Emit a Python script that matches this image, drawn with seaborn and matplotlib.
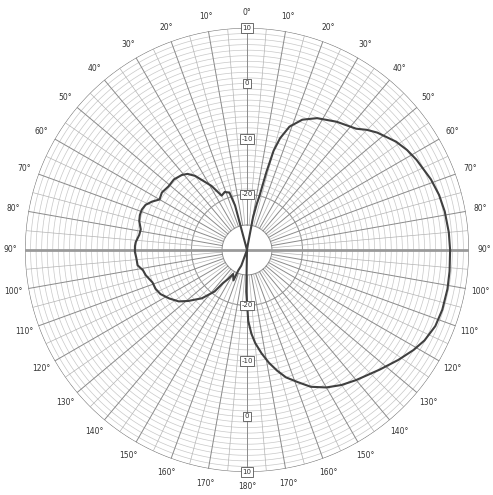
import numpy as np
import pandas as pd
import matplotlib
matplotlib.use("Agg")
import matplotlib.pyplot as plt
import seaborn as sns

# radiation pattern (angle clockwise from top, level in dB)
angle_deg = [0, 9, 10.5, 12, 13, 14, 15, 16.5, 19, 23, 28, 35, 42, 45, 48, 54,
             58, 62, 69, 74, 79, 85, 90, 96, 101, 107, 112, 117, 121, 126, 132,
             140, 145, 150, 155, 159, 163, 166, 169, 172, 175, 177, 179, 181,
             183,
             200, 203, 204, 210, 213, 216, 218, 223, 229, 233, 238, 243, 247,
             251, 256, 259, 262, 266, 269, 272, 274, 278, 281, 285, 288, 291,
             294, 297, 300, 304, 309, 314, 319, 322, 325, 331, 335, 339, 343,
             345, 352, 360]
gain_db = [-30, -29, -24, -21.5, -20, -15.5, -11.5, -9, -6.5, -4.5, -3.1, -1.8,
           -0.6, 0.6, 1.6, 3.2, 4.0, 4.6, 5.5, 6.0, 6.3, 6.5, 6.6, 6.7, 6.8,
           6.8, 6.6, 5.9, 5.0, 3.7, 2.2, 0.6, -0.3, -1.4, -2.8, -4.5, -6,
           -7.6, -9.3, -11.2, -13.2, -14.9, -17.2, -22.5, -30,
           -27, -26, -24, -25, -23.8, -22.6, -20.5, -18.1, -16, -14.6, -13.5,
           -12.5, -12.1, -12.0, -11.2, -10.9, -10.1, -10.0, -9.8, -9.8, -9.9,
           -10.4, -10.5, -9.9, -9.7, -9.7, -10, -10.8, -11.8, -11.5, -11.8,
           -11.7, -12.1, -12.6, -13.7, -16.8, -19.2, -18.8, -19.2, -21.7,
           -30, -30]

ring_labels = [10, 0, -10, -20]
angle_labels = list(range(0, 360, 10))

df = pd.DataFrame({"theta": np.deg2rad(angle_deg), "gain": gain_db})

sns.set_style("white")
fig = plt.figure(figsize=(4.93, 4.95), dpi=100)
ax = fig.add_axes([0.0507, 0.0465, 0.9006, 0.897], projection="polar")
ax.set_theta_zero_location("N")
ax.set_theta_direction(-1)
ax.set_rlim(-30, 10)
ax.grid(False)
ax.set_xticks([])
ax.set_yticks([])
ax.spines["polar"].set_visible(False)

full = np.linspace(0, 2 * np.pi, 400)
inner = -25.5

# concentric rings
for lvl in range(-20, 10):
    ax.plot(full, np.full_like(full, lvl), color="#c8c8c8", lw=0.5, zorder=1)
ax.plot(full, np.full_like(full, -20), color="#999999", lw=0.7, zorder=1)
ax.plot(full, np.full_like(full, 10), color="#777777", lw=0.8, zorder=1)
ax.plot(full, np.full_like(full, inner), color="#888888", lw=0.7, zorder=1)

# radial spokes
for a in range(0, 360, 5):
    t = np.deg2rad(a)
    c, w = ("#8a8a8a", 0.7) if a % 10 == 0 else ("#b4b4b4", 0.5)
    ax.plot([t, t], [inner, 10], color=c, lw=w, zorder=1)

# horizontal axis through the centre
ax.plot([np.pi / 2, np.pi / 2], [-30, 10], color="#9a9a9a", lw=2, zorder=2)
ax.plot([3 * np.pi / 2, 3 * np.pi / 2], [-30, 10], color="#9a9a9a", lw=2, zorder=2)

sns.lineplot(data=df, x="theta", y="gain", sort=False, estimator=None,
             color="#404040", lw=1.5, ax=ax, zorder=5)
ax.set_xlabel("")
ax.set_ylabel("")

for lvl in ring_labels:
    for t in (0, np.pi):
        ax.text(t, lvl, str(lvl), ha="center", va="center", fontsize=5,
                color="#333333", zorder=6,
                bbox=dict(boxstyle="square,pad=0.25", fc="white", ec="#555555", lw=0.6))

for a in angle_labels:
    lab = f"{min(a, 360 - a)}°"
    ax.text(np.deg2rad(a), 12.7, lab, ha="center", va="center", fontsize=5.5,
            color="#333333", clip_on=False)

fig.savefig("out.png", dpi=100, facecolor="white")
